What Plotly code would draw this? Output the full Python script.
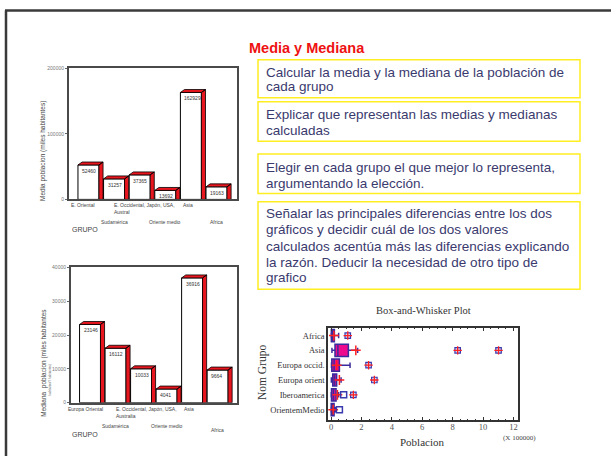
import plotly.graph_objects as go

W, H = 611, 459


def px(x):
    return x / W


def py(y):
    return 1 - y / H


# ---------------- DATA ----------------
cat_media = ["E. Oriental", "Sudamérica", "E. Occidental, Japón, USA,<br>Austral",
             "Oriente medio", "Asia", "Africa"]
media = [52460, 31257, 37365, 13692, 162929, 19163]
media_ticks = [0, 100000, 200000]

cat_mediana = ["Europa Oriental", "Sudamérica", "E. Occidental, Japón, USA,<br>Australia",
               "Oriente medio", "Asia", "Africa"]
mediana = [23146, 16112, 10033, 4041, 36916, 9664]
mediana_ticks = [0, 10000, 20000, 30000, 40000]

box_groups = ["Africa", "Asia", "Europa occid.", "Europa orient", "Iberoamerica", "OrientemMedio"]
box_lower = [0.01, 0.06, 0.03, 0.02, 0.01, 0.00]
box_q1 = [0.02, 0.26, 0.05, 0.11, 0.03, 0.01]
box_median = [0.07, 0.45, 0.20, 0.23, 0.16, 0.08]
box_q3 = [0.22, 1.14, 0.55, 0.37, 0.33, 0.20]
box_upper = [0.50, 1.75, 1.25, 0.66, 0.50, 0.29]
box_mean = [0.19, 1.63, 0.37, 0.55, 0.42, 0.14]
out_group = ["Iberoamerica", "OrientemMedio"]
out_value = [0.83, 0.55]
far_group = ["Africa", "Asia", "Asia", "Europa occid.", "Europa orient", "Iberoamerica"]
far_value = [1.10, 8.33, 11.02, 2.47, 2.85, 1.47]
box_xticks = [0, 2, 4, 6, 8, 10, 12]

title_text = "Media y Mediana"
text_boxes = [
    ["Calcular la media y la mediana de la población de", "cada grupo"],
    ["Explicar que representan las medias y medianas", "calculadas"],
    ["Elegir en cada grupo el que mejor lo representa,", "argumentando la elección."],
    ["Señalar las principales diferencias entre los dos",
     "gráficos y decidir cuál de los dos valores",
     "calculados acentúa más las diferencias explicando",
     "la razón. Deducir la necesidad de otro tipo de",
     "grafico"],
]

# ---------------- STYLE ----------------
RED = "#e8161e"
SANS = "Liberation Sans, Arial, sans-serif"
SERIF = "Liberation Serif, Times New Roman, serif"
NAVY = "#3a3a6e"
BLUE = "#3a3ab0"
PLUS = "#ff2020"

fig = go.Figure()

BW = 0.82  # bar width in category units


def add_3d_bars(values, xa, ya, dx, dy):
    xs = list(range(len(values)))
    fig.add_trace(go.Bar(x=xs, y=values, width=BW, xaxis=xa, yaxis=ya,
                         marker=dict(color="white", line=dict(color="black", width=1)),
                         showlegend=False, hoverinfo="skip"))
    px_, py_ = [], []
    for i, v in zip(xs, values):
        l, r = i - BW / 2, i + BW / 2
        # top face
        px_ += [l, l + dx, r + dx, r, l, None]
        py_ += [v, v + dy, v + dy, v, v, None]
        # side face
        px_ += [r, r + dx, r + dx, r, r, None]
        py_ += [0, 0, v + dy, v, 0, None]
    fig.add_trace(go.Scatter(x=px_, y=py_, xaxis=xa, yaxis=ya, mode="lines",
                             fill="toself", fillcolor=RED,
                             line=dict(color="black", width=0.8),
                             showlegend=False, hoverinfo="skip"))


add_3d_bars(media, "x", "y", 0.16, 4500)
add_3d_bars(mediana, "x2", "y2", 0.16, 880)


def note(x, y, text, size, color, family=SANS, xanchor="center", yanchor="middle", **kw):
    fig.add_annotation(x=x, y=y, text=text, xanchor=xanchor, yanchor=yanchor, showarrow=False,
                       font=dict(family=family, size=size, color=color), **kw)


# value labels inside bars
for i, v in enumerate(media):
    note(i - BW / 2, v, str(v), 5, "#333", xref="x", yref="y",
         xanchor="left", yanchor="top", xshift=2, yshift=-1)
for i, v in enumerate(mediana):
    note(i - BW / 2, v, str(v), 5, "#333", xref="x2", yref="y2",
         xanchor="left", yanchor="top", xshift=2, yshift=-1)

# category labels (alternating rows)
row1_shift = [-5, 0, 5, 0, -3, 0]
for i, c in enumerate(cat_media):
    top = 200 if i % 2 == 0 else 216.5
    note(i, py(top), c, 5, "#444", xref="x", yref="paper", align="left",
         yanchor="top", xshift=row1_shift[i])
for i, c in enumerate(cat_mediana):
    top = 406.5 if i % 2 == 0 else 423.5
    if i == 5:
        top = 427.5
    note(i, py(top), c, 5, "#444", xref="x2", yref="paper", align="left",
         yanchor="top", xshift=row1_shift[i])

for yy in (230, 437):
    note(px(70), py(yy), "GRUPO", 7, "#444", xref="paper", yref="paper", xanchor="left")

note(px(43), py(150), "Media poblacion (miles habitantes)", 6.5, "#444",
     xref="paper", yref="paper", textangle=-90)
note(px(44.5), py(365), "Mediana  poblacion (miles habitantes", 6.5, "#444",
     xref="paper", yref="paper", textangle=-90)
note(px(50.5), py(382), "habitantes*l habitantes)", 3, "#666",
     xref="paper", yref="paper", textangle=-90)

# ---------------- BOX PLOT ----------------
for g, lo, q1, me, q3, up in zip(box_groups, box_lower, box_q1, box_median, box_q3, box_upper):
    fig.add_trace(go.Box(y=[g], lowerfence=[lo], q1=[q1], median=[me], q3=[q3], upperfence=[up],
                         orientation="h", xaxis="x3", yaxis="y3", width=0.82,
                         fillcolor="#ee0a8c", line=dict(color="#3a2c9e", width=1.5),
                         whiskerwidth=0.45, boxpoints=False, showlegend=False,
                         hoverinfo="skip"))

fig.add_trace(go.Scatter(x=box_mean, y=box_groups, xaxis="x3", yaxis="y3", mode="markers",
                         marker=dict(symbol="cross-thin", size=7, color=PLUS,
                                     line=dict(color=PLUS, width=1.5)),
                         showlegend=False, hoverinfo="skip"))
fig.add_trace(go.Scatter(x=out_value, y=out_group, xaxis="x3", yaxis="y3", mode="markers",
                         marker=dict(symbol="square-open", size=6, color=BLUE,
                                     line=dict(color=BLUE, width=1.5)),
                         showlegend=False, hoverinfo="skip"))
fig.add_trace(go.Scatter(x=far_value, y=far_group, xaxis="x3", yaxis="y3", mode="markers",
                         marker=dict(symbol="square", size=5.5, color="#d8d8f4",
                                     line=dict(color=BLUE, width=1.2)),
                         showlegend=False, hoverinfo="skip"))
fig.add_trace(go.Scatter(x=far_value, y=far_group, xaxis="x3", yaxis="y3", mode="markers",
                         marker=dict(symbol="cross-thin", size=6, color=PLUS,
                                     line=dict(color=PLUS, width=1.3)),
                         showlegend=False, hoverinfo="skip"))

note(px(423), py(312), "Box-and-Whisker Plot", 10.5, "#333", family=SERIF,
     xref="paper", yref="paper")
note(px(422), py(444.5), "Poblacion", 11, "#333", family=SERIF, xref="paper", yref="paper")
note(px(519), py(440.5), "(X 100000)", 7, "#444", family=SERIF, xref="paper", yref="paper")
note(px(262), py(374), "Nom Grupo", 11.5, "#333", family=SERIF, xref="paper", yref="paper",
     textangle=-90)

# ---------------- TEXT BOXES ----------------
note(px(247), py(46), "<b>" + title_text + "</b>", 14.5, "#ee1111",
     xref="paper", yref="paper", xanchor="left")

box_rects = [(57.5, 96), (100, 140), (153, 193), (201.5, 290)]
line_ys = [[70, 85], [112.5, 129], [166.5, 183], [213.5, 230, 246.5, 262.5, 278.5]]
for (y0, y1), lines, ys in zip(box_rects, text_boxes, line_ys):
    fig.add_shape(type="rect", xref="paper", yref="paper", x0=px(258), x1=px(580),
                  y0=py(y1), y1=py(y0), line=dict(color="#ffee22", width=1.5))
    for t, yy in zip(lines, ys):
        note(px(263.5), py(yy), t, 13.5, NAVY, xref="paper", yref="paper", xanchor="left")

# slide border
fig.add_shape(type="line", xref="paper", yref="paper", x0=px(5), x1=1, y0=py(7.5), y1=py(7.5),
              line=dict(color="#3a3a3a", width=2.5))
fig.add_shape(type="line", xref="paper", yref="paper", x0=px(6), x1=px(6), y0=0, y1=py(7.5),
              line=dict(color="#3a3a3a", width=2.5))

# ---------------- AXES ----------------
bar_x = dict(showticklabels=False, showgrid=False, zeroline=False, showline=True, mirror=True,
             linecolor="#4a4a4a", linewidth=2, ticks="")
bar_y = dict(showgrid=False, zeroline=False, showline=True, mirror=True, linecolor="#4a4a4a",
             linewidth=2, ticks="outside", ticklen=2, tickcolor="#666",
             tickfont=dict(family=SANS, size=5, color="#777"))

fig.update_layout(
    width=W, height=H, margin=dict(l=0, r=0, t=0, b=0),
    paper_bgcolor="white", plot_bgcolor="rgba(0,0,0,0)", showlegend=False,
    xaxis=dict(domain=[px(69), px(237)], range=[-0.76, 5.8], anchor="y", **bar_x),
    yaxis=dict(domain=[py(199), py(66)], range=[0, 200000], anchor="x",
               tickvals=media_ticks, ticktext=[str(v) for v in media_ticks], **bar_y),
    xaxis2=dict(domain=[px(71), px(237)], range=[-0.745, 5.76], anchor="y2", **bar_x),
    yaxis2=dict(domain=[py(405), py(268)], range=[0, 40000], anchor="x2",
                tickvals=mediana_ticks, ticktext=[str(v) for v in mediana_ticks], **bar_y),
    xaxis3=dict(domain=[px(328), px(518)], range=[-0.2, 12.3], anchor="y3",
                tickvals=box_xticks, ticks="inside", ticklen=4, tickcolor="#333",
                minor=dict(dtick=0.5, ticks="inside", ticklen=2, tickcolor="#333"),
                showline=True, mirror="allticks", linecolor="#333", linewidth=1.5,
                showgrid=False, zeroline=False, ticklabelstandoff=-2,
                tickfont=dict(family=SERIF, size=8.5, color="#555")),
    yaxis3=dict(domain=[py(423), py(329)], type="category", categoryorder="array",
                categoryarray=list(reversed(box_groups)), range=[-0.73, 5.53], anchor="x3",
                showline=True, mirror=True, linecolor="#333", linewidth=1.5,
                showgrid=False, zeroline=False, ticks="",
                tickfont=dict(family=SERIF, size=8.5, color="#333")),
)

fig.write_html("out.html", config={"displayModeBar": False},
               post_script="document.body.style.margin='0';document.body.style.overflow='hidden';")
